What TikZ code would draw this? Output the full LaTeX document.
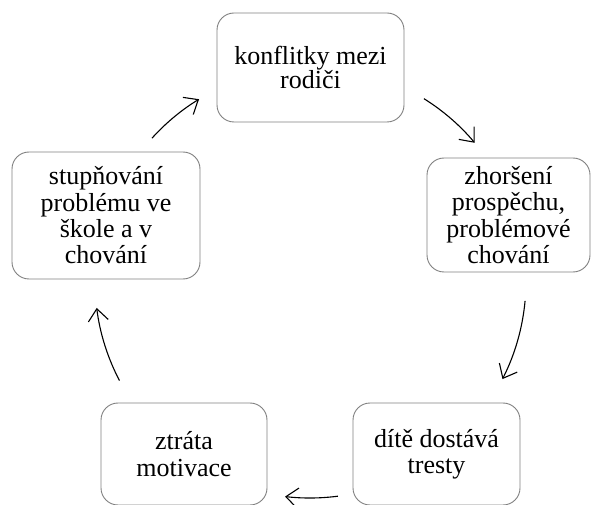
\documentclass[tikz,border=0pt]{standalone}
\usepackage{fontspec}
\setmainfont{Liberation Serif}
\usetikzlibrary{arrows.meta}

\begin{document}
\begin{tikzpicture}[x=1pt, y=1pt,
	box/.style={draw=black!50, line width=0.9pt, rounded corners=17pt, fill=white, align=center, inner sep=0pt, font=\fontsize{26}{26.3}\selectfont},
	cyc/.style={line width=1.1pt, -{Straight Barb[length=12pt,width=20pt]}}]
  		\useasboundingbox (0,0) rectangle (592,504);
  		\node[box, font=\fontsize{26}{23}\selectfont, minimum width=187pt, minimum height=109pt] (konflikty) at (310.5,436.5) {konflitky mezi\\rodiči};
  		\node[box, minimum width=163pt, minimum height=114pt] (prospech) at (508.5,289) {zhoršení\\prospěchu,\\problémové\\chování};
  		\node[box, minimum width=167pt, minimum height=102pt] (tresty) at (436.5,50) {dítě dostává\\tresty};
  		\node[box, minimum width=166pt, minimum height=102pt] (motivace) at (184,50) {ztráta\\motivace};
  		\node[box, minimum width=188pt, minimum height=127pt] (skola) at (106,288.5) {stupňování\\problému ve\\škole a v\\chování};
  		\coordinate (stred) at (310,223);
		\draw[cyc] (stred) ++(58:215) arc[start angle=58, end angle=40, radius=215];
		\draw[cyc] (stred) ++(-5.3:216) arc[start angle=-5.3, end angle=-27, radius=216];
		\draw[cyc] (stred) ++(-82.6:217) arc[start angle=-82.6, end angle=-96.6, radius=217];
		\draw[cyc] (stred) ++(207.6:215) arc[start angle=207.6, end angle=187.2, radius=215];
		\draw[cyc] (stred) ++(137.9:213) arc[start angle=137.9, end angle=121.4, radius=213];
	\end{tikzpicture}
\end{document}
